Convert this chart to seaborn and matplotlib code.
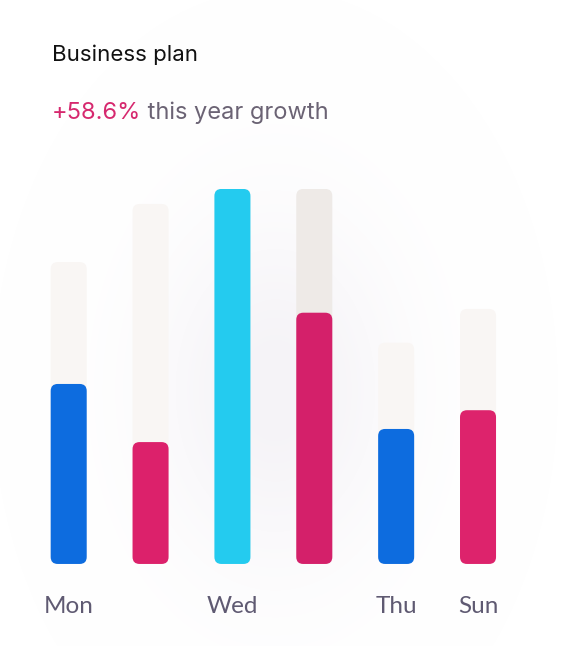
import numpy as np
import pandas as pd
import matplotlib
matplotlib.use('Agg')
import matplotlib.pyplot as plt
import seaborn as sns
from matplotlib.patches import FancyBboxPatch
from matplotlib.colors import LinearSegmentedColormap

# data (target = pale track, actual = coloured bar)
slots = ['s1', 's2', 's3', 's4', 's5', 's6']
tick_labels = ['Mon', '', 'Wed', '', 'Thu', 'Sun']
target = [80.5, 96, 100, 100, 59, 68]
actual = [48, 32.5, 100, 67, 36, 41]
track_colors = ['#f9f6f4', '#f9f6f4', '#f9f6f4', '#eeeae7', '#f9f6f4', '#f9f6f4']
bar_colors = ['#0d6cdf', '#dc216b', '#24cbef', '#d4206a', '#0d6cdf', '#dd236c']

df = pd.DataFrame({'slot': slots, 'target': target, 'actual': actual})

sns.set_theme(style='white')
plt.rcParams['font.family'] = ['Inter', 'DejaVu Sans']

fig = plt.figure(figsize=(5.62, 6.46), dpi=100)

# soft glow behind the chart
bg = fig.add_axes([0, 0, 1, 1], zorder=0)
yy, xx = np.mgrid[0:646, 0:562]
r = np.hypot((xx - 275) / 120, (yy - 390) / 170)
glow_cmap = LinearSegmentedColormap.from_list('glow', ['#ffffff', '#f5f3f7'])
bg.imshow(np.exp(-r ** 2), cmap=glow_cmap, vmin=0, vmax=1, aspect='auto')
bg.axis('off')

ax = fig.add_axes([0.0494, 0.127, 0.874, 0.5805], zorder=1)
ax.patch.set_alpha(0)

sns.barplot(data=df, x='slot', y='target', hue='slot', palette=track_colors,
            width=0.44, saturation=1, legend=False, ax=ax)
sns.barplot(data=df, x='slot', y='actual', hue='slot', palette=bar_colors,
            width=0.44, saturation=1, legend=False, ax=ax)
ax.set_xlim(-0.5, 5.5)
ax.set_ylim(0, 100)

# rounded corners: swap each rectangle for a rounded box of the same size
fig.canvas.draw()
p0 = ax.transData.transform((0, 0))
p1 = ax.transData.transform((1, 1))
px_x = p1[0] - p0[0]
px_y = p1[1] - p0[1]
radius = 7
for i, p in enumerate(list(ax.patches)):
    x, y, w, h = p.get_x(), p.get_y(), p.get_width(), p.get_height()
    fc = p.get_facecolor()
    p.remove()
    box = FancyBboxPatch((x, y), w, h,
                         boxstyle=f'round,pad=0,rounding_size={radius / px_x}',
                         mutation_aspect=px_x / px_y,
                         facecolor=fc, edgecolor='none', zorder=2 + i * 0.01)
    ax.add_patch(box)

ax.set_xticks(range(len(slots)))
ax.set_xticklabels(tick_labels, fontsize=17.5, color='#5f5a72',
                   family=['Lato', 'DejaVu Sans'])
ax.tick_params(axis='x', length=0, pad=23)
ax.set_yticks([])
ax.set_xlabel('')
ax.set_ylabel('')
sns.despine(ax=ax, left=True, bottom=True)

fig.text(52 / 562, 1 - 61 / 646, 'Business plan', fontsize=16,
         color='#111111', va='baseline', ha='left')
t1 = fig.text(52 / 562, 1 - 119 / 646, '+58.6%', fontsize=17,
              color='#d6286e', va='baseline', ha='left')
fig.canvas.draw()
ax.annotate(' this year growth', xy=(1, 0), xycoords=t1, fontsize=17,
            color='#6b6374', va='bottom', ha='left', annotation_clip=False)

fig.savefig('out.png', dpi=100)
